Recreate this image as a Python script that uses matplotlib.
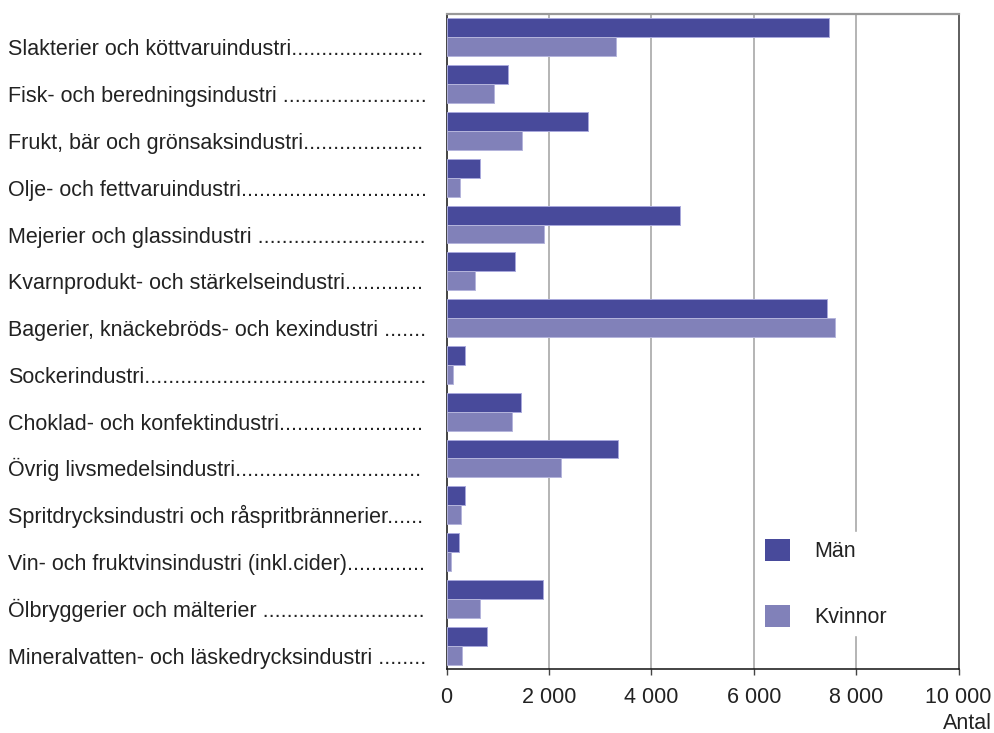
"""Sysselsatta i livsmedelsindustrin efter bransch och kön."""

import matplotlib
matplotlib.use("Agg")
import matplotlib.pyplot as plt
import matplotlib.transforms as mtransforms
from matplotlib.patches import Patch
from matplotlib.ticker import FuncFormatter

plt.rcParams["font.family"] = ["Liberation Sans", "DejaVu Sans"]

branscher = [
    "Slakterier och köttvaruindustri",
    "Fisk- och beredningsindustri ",
    "Frukt, bär och grönsaksindustri",
    "Olje- och fettvaruindustri",
    "Mejerier och glassindustri ",
    "Kvarnprodukt- och stärkelseindustri",
    "Bagerier, knäckebröds- och kexindustri ",
    "Sockerindustri",
    "Choklad- och konfektindustri",
    "Övrig livsmedelsindustri",
    "Spritdrycksindustri och råspritbrännerier",
    "Vin- och fruktvinsindustri (inkl.cider)",
    "Ölbryggerier och mälterier ",
    "Mineralvatten- och läskedrycksindustri ",
]
man = [7480, 1200, 2770, 660, 4560, 1330, 7440, 360, 1450, 3340, 356, 240, 1890, 790]
kvinnor = [3320, 930, 1480, 263, 1910, 563, 7590, 127, 1280, 2230, 288, 96, 651, 295]

x_ticks = [0, 2000, 4000, 6000, 8000, 10000]

FS = 15.5
C_MAN = "#484a9b"
C_KV = "#8181b9"

fig = plt.figure(figsize=(9.94, 7.33), dpi=100)
ax = fig.add_axes([446.5 / 994, 64 / 733, 512 / 994, 655 / 733])

ypos = list(range(len(branscher)))
h = 0.405
ax.barh([y - h / 2 for y in ypos], man, height=h, color=C_MAN,
        edgecolor="#a9a9dc", linewidth=0.7, zorder=3)
ax.barh([y + h / 2 for y in ypos], kvinnor, height=h, color=C_KV,
        edgecolor="#b4b4dc", linewidth=0.7, zorder=3)

ax.set_xlim(0, 10000)
ax.set_ylim(len(branscher) - 0.5, -0.5)
ax.set_xticks(x_ticks)
ax.xaxis.set_major_formatter(FuncFormatter(lambda v, p: f"{int(v):,}".replace(",", " ")))
ax.tick_params(axis="x", labelsize=FS, colors="#222222", length=4, width=1, pad=9,
               color="#444444")
ax.set_yticks([])
for x in x_ticks[1:-1]:
    ax.axvline(x, color="#a8a8a8", linewidth=1.2, zorder=1)

ax.spines["top"].set_color("#999999")
ax.spines["top"].set_linewidth(1.6)
ax.spines["right"].set_color("#333333")
ax.spines["left"].set_color("#111111")
ax.spines["bottom"].set_color("#111111")
for s in ["right", "left", "bottom"]:
    ax.spines[s].set_linewidth(1.1)

# Kategorinamn med punktlinje fram till axeln
trans = mtransforms.blended_transform_factory(fig.transFigure, ax.transData)
renderer = fig.canvas.get_renderer()
target_w = 424 - 8
for y, name in zip(ypos, branscher):
    t = fig.text(8 / 994, y + 0.385, name, transform=trans, fontsize=FS,
                 color="#222222", ha="left", va="baseline")
    while t.get_window_extent(renderer).width < target_w:
        t.set_text(t.get_text() + ".")
    if t.get_window_extent(renderer).width > target_w + 3:
        t.set_text(t.get_text()[:-1])

handles = [Patch(facecolor=C_MAN, edgecolor="none"), Patch(facecolor=C_KV, edgecolor="none")]
leg = ax.legend(handles, ["Män", "Kvinnor"], loc="upper left",
                bbox_to_anchor=(758 / 994, 1 - 532 / 733), bbox_transform=fig.transFigure,
                fontsize=FS, frameon=True, fancybox=False, framealpha=1,
                edgecolor="white", facecolor="white", borderaxespad=0,
                borderpad=0.33, handlelength=1.16, handleheight=1.16,
                handletextpad=1.1, labelspacing=2.0)
for txt in leg.get_texts():
    txt.set_color("#222222")
leg.set_zorder(5)

fig.text(992 / 994, 4 / 733, "Antal", fontsize=FS, color="#222222", ha="right", va="baseline")

fig.savefig("out.png", dpi=100)
